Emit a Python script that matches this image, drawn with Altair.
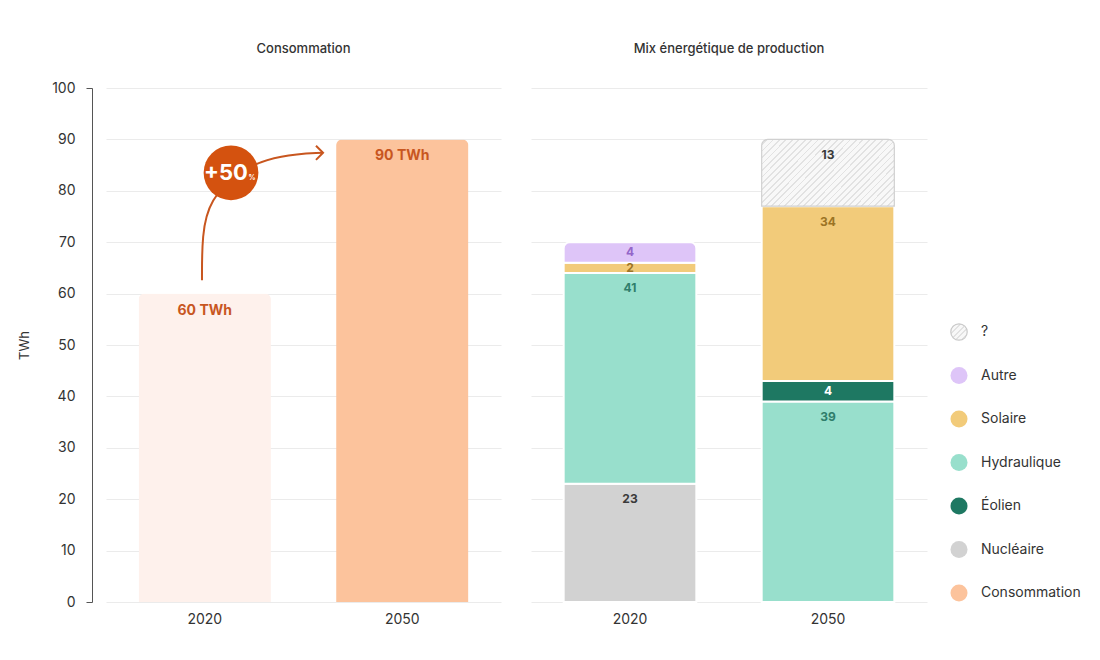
import altair as alt
import pandas as pd

# ---------------- data ----------------
years = ["2020", "2050"]
consumption = [60, 90]
consumption_labels = ["60 TWh", "90 TWh"]

mix_years = ["2020", "2020", "2020", "2020", "2050", "2050", "2050", "2050"]
mix_sources = ["Nucléaire", "Hydraulique", "Solaire", "Autre",
               "Hydraulique", "Éolien", "Solaire", "?"]
mix_values = [23, 41, 2, 4, 39, 4, 34, 13]

stack_order = ["Nucléaire", "Hydraulique", "Éolien", "Solaire", "Autre", "?"]
legend_order = ["?", "Autre", "Solaire", "Hydraulique", "Éolien", "Nucléaire", "Consommation"]

# annotation (+50 %) in data units: u on a 0..2 axis across the two years, value in TWh
arrow_u = [0.486, 0.486, 0.522, 0.684, 0.886, 1.099]
arrow_v = [62.6, 71.4, 78.2, 84.4, 87.0, 87.4]
badge_u = [0.633]
badge_v = [83.5]
badge_text = ["+50"]

# ---------------- styles ----------------
FONT = "Inter"
TXT = "#333333"
GRID = "#EBEBEB"
ORANGE = "#C8561F"

fill_colors = {"?": "#F5F5F5", "Autre": "#DEC5F8", "Solaire": "#F2CB7A",
               "Hydraulique": "#98DFCC", "Éolien": "#1E7862",
               "Nucléaire": "#D2D2D2", "Consommation": "#FCC39C"}
label_colors = {"?": "#3A3A3A", "Autre": "#9466C9", "Solaire": "#9C7425",
                "Hydraulique": "#2F7E6B", "Éolien": "#FFFFFF", "Nucléaire": "#3A3A3A"}


def hatch(x2, y2, n, light="#F8F8F8", dark="#E2E2E2", frac=0.72):
    stops = []
    for k in range(n):
        a = k / n
        b = (k + frac) / n
        c = (k + 1) / n
        stops += [{"offset": a, "color": light}, {"offset": b, "color": light},
                  {"offset": b, "color": dark}, {"offset": min(c, 1.0), "color": dark}]
    return {"gradient": "linear", "x1": 0, "y1": 0, "x2": x2, "y2": y2, "stops": stops}


y_scale = alt.Scale(domain=[0, 100])
tick_vals = list(range(0, 101, 10))

left_axis = alt.Axis(values=tick_vals, offset=14, domainColor="#555555", tickColor="#555555",
                     tickSize=6,
                     tickOpacity={"condition": {"test": "datum.value == 0 || datum.value == 100", "value": 1}, "value": 0},
                     labelPadding=11, labelFontSize=14, labelColor=TXT, gridColor=GRID,
                     title="TWh", titleFontSize=13, titleFontWeight="normal", titleColor=TXT,
                     titlePadding=20)
right_axis = alt.Axis(values=tick_vals, labels=False, ticks=False, domain=False, title=None,
                      gridColor=GRID)
x_axis = alt.Axis(title=None, labelAngle=0, domain=False, ticks=False, labelFontSize=14,
                  labelColor=TXT, labelPadding=10)
band = alt.Scale(paddingInner=0.33, paddingOuter=0.165)


def title(t, offset=32):
    return alt.TitleParams(t, fontSize=13, fontWeight=500, color=TXT, offset=offset, anchor="middle",
                           frame="group")


PW, PH = 395, 514

# ---------------- left panel : consommation ----------------
cons_df = pd.DataFrame({"year": years, "value": consumption, "label": consumption_labels})
xb = alt.X("year:N", scale=band, axis=x_axis)

cons_bars = alt.Chart(cons_df).mark_bar(cornerRadiusTopLeft=6, cornerRadiusTopRight=6).encode(
    x=xb,
    y=alt.Y("value:Q", scale=y_scale, axis=left_axis),
    color=alt.Color("year:N", scale=alt.Scale(domain=years, range=["#FEF1EC", "#FCC39C"]), legend=None),
)
cons_text = alt.Chart(cons_df).mark_text(baseline="middle", dy=17, fontSize=14, fontWeight="bold",
                                         color=ORANGE, font=FONT).encode(
    x=xb, y=alt.Y("value:Q", scale=y_scale, axis=left_axis), text="label:N")

ax = alt.X("u:Q", scale=alt.Scale(domain=[0, 2]), axis=None)
arrow_df = pd.DataFrame({"i": range(len(arrow_u)), "u": arrow_u, "value": arrow_v})
head_df = arrow_df.tail(1)
badge_df = pd.DataFrame({"u": badge_u, "value": badge_v, "t": badge_text})

arrow = alt.Chart(arrow_df).mark_line(interpolate="basis", color=ORANGE, strokeWidth=2).encode(
    x=ax, y=alt.Y("value:Q", scale=y_scale, axis=left_axis), order="i:Q")
head = alt.Chart(head_df).mark_point(shape="M-1,-1L0,0L-1,1", filled=False, size=200,
                                     color=ORANGE, strokeWidth=2, opacity=1).encode(
    x=ax, y=alt.Y("value:Q", scale=y_scale, axis=left_axis))
badge = alt.Chart(badge_df).mark_circle(size=3000, color="#D4520F", opacity=1).encode(
    x=ax, y=alt.Y("value:Q", scale=y_scale, axis=left_axis))
badge_lbl = alt.Chart(badge_df).mark_text(fontSize=22, fontWeight="bold", color="white", dx=-5,
                                          baseline="middle", font=FONT).encode(
    x=ax, y=alt.Y("value:Q", scale=y_scale, axis=left_axis), text="t:N")
badge_pct = alt.Chart(badge_df).mark_text(fontSize=7, fontWeight="bold", color="white", dx=21, dy=5,
                                          baseline="middle", font=FONT, text="%").encode(
    x=ax, y=alt.Y("value:Q", scale=y_scale, axis=left_axis))

left = alt.layer(
    alt.layer(cons_bars, cons_text),
    alt.layer(arrow, head, badge, badge_lbl, badge_pct),
).resolve_scale(x="independent").properties(width=PW, height=PH, title=title("Consommation", 25))

# ---------------- right panel : mix ----------------
mix_df = pd.DataFrame({"year": mix_years, "source": mix_sources, "value": mix_values})
mix_df["rank"] = mix_df["source"].map(stack_order.index)

base = alt.Chart(mix_df).transform_stack(
    stack="value", as_=["y0", "y1"], groupby=["year"],
    sort=[alt.SortField("rank", order="ascending")],
).transform_joinaggregate(top="max(rank)", groupby=["year"]).transform_calculate(
    mid="datum.y1 - min(3, datum.value / 2)")

fill_scale = alt.Scale(domain=list(fill_colors.keys()), range=list(fill_colors.values()))
lab_scale = alt.Scale(domain=list(label_colors.keys()), range=list(label_colors.values()))
xr = alt.X("year:N", scale=band, axis=x_axis)
yr0 = alt.Y("y0:Q", scale=y_scale, axis=right_axis)

plain = base.transform_filter("datum.rank < datum.top").mark_bar(stroke="white", strokeWidth=2).encode(
    x=xr, y=yr0, y2="y1:Q", color=alt.Color("source:N", scale=fill_scale, legend=None))
topbar = base.transform_filter("datum.rank == datum.top && datum.source != '?'").mark_bar(
    stroke="white", strokeWidth=2, cornerRadiusTopLeft=6, cornerRadiusTopRight=6).encode(
    x=xr, y=yr0, y2="y1:Q", color=alt.Color("source:N", scale=fill_scale, legend=None))
qbar = base.transform_filter("datum.source == '?'").mark_bar(
    fill=hatch(1.2, 0.6, 31), stroke="#D0D0D0", strokeWidth=1.2,
    cornerRadiusTopLeft=6, cornerRadiusTopRight=6).encode(x=xr, y=yr0, y2="y1:Q")
seg_text = base.mark_text(fontSize=12, fontWeight="bold", baseline="middle", font=FONT).encode(
    x=xr, y=alt.Y("mid:Q", scale=y_scale, axis=right_axis), text="value:Q",
    color=alt.Color("source:N", scale=lab_scale, legend=None))

right = alt.layer(plain, topbar, qbar, seg_text).resolve_scale(color="independent").properties(
    width=PW + 1, height=PH, title=title("Mix énergétique de production"))

# ---------------- custom legend ----------------
leg_df = pd.DataFrame({"source": legend_order})
ly = alt.Y("source:N", sort=legend_order,
           scale=alt.Scale(type="point", range=[244, 505], padding=0), axis=None)
lx = alt.XDatum(0, scale=alt.Scale(domain=[0, 1]), axis=None)

leg_dots = alt.Chart(leg_df).transform_filter("datum.source != '?'").mark_circle(size=290, opacity=1).encode(
    x=lx, y=ly, color=alt.Color("source:N", scale=fill_scale, legend=None))
leg_q = alt.Chart(leg_df).transform_filter("datum.source == '?'").mark_point(
    shape="circle", filled=True, size=270, fill=hatch(1, 1, 6), stroke="#C9C9C9", strokeWidth=1.2,
    opacity=1).encode(x=lx, y=ly)
leg_txt = alt.Chart(leg_df).mark_text(align="left", dx=22, fontSize=14, color=TXT, font=FONT,
                                      baseline="middle").encode(x=lx, y=ly, text="source:N")

legend = alt.layer(leg_dots, leg_q, leg_txt).properties(width=125, height=PH, title=title(" "))

chart = alt.hconcat(
    alt.hconcat(left, right, spacing=30).resolve_scale(color="independent"),
    legend,
    spacing=21,
).resolve_scale(color="independent").properties(
    padding={"left": 10, "top": 35, "right": 5, "bottom": 5}
).configure(font=FONT).configure_view(stroke="transparent", strokeWidth=0)

chart.save("out.html", embed_options={"renderer": "svg", "actions": False})
